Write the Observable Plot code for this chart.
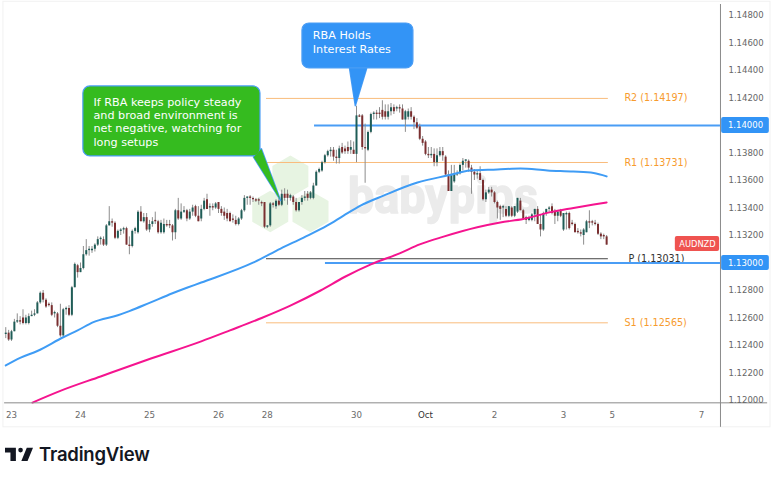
<!DOCTYPE html>
<html><head><meta charset="utf-8">
<script src="https://cdn.jsdelivr.net/npm/d3@7"></script>
<script src="https://cdn.jsdelivr.net/npm/@observablehq/plot@0.6"></script>
<style>
html,body{margin:0;padding:0;background:#fff;overflow:hidden}
#wrap{position:relative;width:780px;height:483px}
#brand{position:absolute;left:5px;top:443px;display:flex;align-items:center;gap:6px;font:600 18.5px Inter,sans-serif;color:#131722;letter-spacing:-.2px}
</style></head><body>
<div id="wrap"><div id="chart"></div>
<div id="brand"><svg width="28" height="22" viewBox="0 0 36 28"><path fill="#131722" d="M14 6H0v6h7v11h7V6Zm15 17h-8l7-17h8l-7 17Zm-9-11a3 3 0 1 0 0-6 3 3 0 0 0 0 6Z"/></svg><span>TradingView</span></div>
</div>
<script>
// Hourly AUDNZD candles, in pips: 1248 means 1.1248
const opens=[1248,1249,1244,1250,1257,1258,1260,1256,1256,1261,
1262,1263,1271,1278,1273,1270,1269,1263,1263,1254,
1247,1266,1267,1262,1282,1298,1293,1296,1306,1309,
1309,1310,1313,1317,1317,1313,1327,1330,1329,1318,
1323,1324,1325,1313,1312,1323,1322,1337,1330,1333,
1324,1328,1331,1330,1322,1322,1328,1328,1327,1322,
1338,1332,1337,1338,1332,1337,1341,1334,1332,1339,
1346,1340,1341,1340,1344,1339,1337,1336,1336,1332,
1331,1328,1332,1338,1347,1348,1347,1346,1346,1344,
1344,1326,1327,1343,1341,1345,1342,1350,1350,1347,
1348,1344,1338,1344,1347,1350,1347,1347,1356,1366,
1367,1373,1378,1381,1382,1377,1376,1384,1383,1384,
1382,1382,1379,1407,1407,1384,1382,1395,1408,1409,
1409,1411,1410,1406,1410,1413,1412,1413,1412,1404,
1406,1410,1406,1402,1399,1390,1388,1379,1378,1379,
1373,1378,1381,1377,1364,1352,1359,1364,1365,1371,
1374,1374,1369,1366,1364,1365,1360,1346,1351,1353,
1351,1344,1341,1340,1339,1334,1340,1334,1337,1345,
1338,1333,1331,1331,1335,1339,1328,1324,1336,1339,
1341,1337,1334,1338,1324,1335,1336,1329,1328,1323,
1322,1320,1322,1330,1330,1329,1328,1321,1320,1319];
const highs=[1253,1251,1251,1259,1263,1261,1266,1262,1263,1265,
1266,1272,1279,1280,1274,1271,1271,1265,1264,1270,
1267,1268,1269,1283,1300,1299,1300,1312,1317,1312,
1312,1314,1319,1319,1319,1328,1341,1332,1330,1324,
1325,1326,1326,1319,1324,1326,1338,1341,1336,1336,
1331,1333,1337,1331,1331,1332,1331,1331,1328,1339,
1347,1343,1341,1339,1339,1342,1342,1341,1342,1347,
1350,1343,1343,1344,1344,1341,1340,1339,1337,1335,
1334,1333,1339,1349,1348,1349,1348,1347,1347,1345,
1344,1327,1344,1344,1346,1347,1353,1354,1353,1350,
1349,1347,1344,1349,1352,1352,1352,1358,1367,1369,
1374,1379,1382,1384,1384,1382,1385,1387,1385,1388,
1389,1388,1414,1408,1408,1401,1396,1409,1410,1411,
1413,1418,1415,1415,1416,1415,1414,1415,1415,1411,
1412,1413,1407,1405,1401,1392,1389,1384,1384,1383,
1383,1384,1384,1378,1367,1371,1371,1367,1372,1376,
1375,1375,1371,1368,1367,1370,1361,1353,1355,1355,
1352,1345,1342,1342,1341,1341,1341,1341,1347,1347,
1339,1334,1334,1336,1339,1341,1335,1337,1339,1341,
1343,1339,1338,1339,1336,1337,1337,1331,1329,1325,
1324,1325,1331,1338,1331,1331,1329,1322,1321,1320];
const lows=[1245,1243,1243,1250,1256,1255,1255,1255,1255,1261,
1261,1263,1270,1271,1267,1268,1261,1260,1253,1246,
1246,1262,1261,1261,1282,1289,1293,1295,1305,1305,
1307,1308,1312,1313,1312,1312,1327,1326,1317,1317,
1320,1321,1313,1306,1311,1321,1321,1330,1329,1323,
1322,1326,1328,1321,1321,1321,1326,1325,1316,1317,
1331,1331,1336,1330,1331,1334,1333,1330,1330,1338,
1339,1334,1338,1339,1336,1334,1331,1330,1330,1329,
1327,1327,1331,1337,1342,1342,1344,1344,1342,1341,
1325,1325,1326,1340,1339,1341,1341,1345,1342,1345,
1342,1337,1337,1342,1345,1345,1346,1346,1356,1365,
1366,1372,1377,1377,1374,1372,1372,1379,1379,1379,
1379,1379,1373,1406,1382,1358,1381,1394,1404,1404,
1405,1404,1404,1404,1407,1408,1410,1409,1404,1395,
1404,1404,1397,1397,1389,1385,1378,1376,1376,1370,
1370,1377,1374,1363,1352,1352,1358,1363,1364,1367,
1369,1366,1350,1360,1361,1360,1345,1344,1350,1348,
1343,1332,1331,1333,1333,1333,1333,1333,1336,1338,
1331,1328,1330,1330,1330,1328,1319,1323,1334,1337,
1335,1328,1330,1333,1323,1324,1324,1327,1322,1321,
1319,1313,1322,1325,1327,1327,1320,1317,1317,1313];
const closes=[1249,1244,1250,1257,1258,1257,1256,1260,1261,1262,
1263,1271,1278,1273,1268,1269,1262,1264,1254,1247,
1266,1267,1262,1282,1299,1293,1296,1306,1309,1310,
1310,1313,1317,1318,1313,1327,1330,1329,1318,1323,
1324,1325,1313,1312,1323,1325,1337,1330,1333,1324,
1328,1330,1330,1322,1329,1328,1327,1327,1322,1338,
1332,1337,1338,1332,1337,1340,1334,1330,1339,1345,
1339,1341,1340,1343,1339,1336,1334,1332,1330,1331,
1328,1332,1338,1347,1348,1347,1346,1345,1345,1343,
1326,1327,1343,1342,1345,1342,1350,1347,1347,1349,
1344,1338,1344,1347,1348,1347,1351,1356,1366,1368,
1373,1378,1381,1382,1377,1376,1383,1380,1381,1381,
1384,1379,1407,1406,1384,1383,1395,1408,1409,1408,
1408,1406,1406,1410,1413,1410,1413,1412,1404,1410,
1410,1406,1402,1398,1390,1387,1379,1378,1379,1373,
1378,1381,1378,1364,1352,1364,1365,1365,1371,1374,
1375,1369,1366,1364,1365,1360,1346,1351,1353,1351,
1344,1340,1339,1341,1334,1341,1334,1341,1347,1338,
1332,1331,1333,1335,1339,1328,1324,1336,1339,1340,
1336,1334,1337,1334,1336,1336,1325,1328,1322,1322,
1321,1324,1330,1329,1329,1328,1321,1319,1319,1313];

// Moving averages, read at these bars
const blueBars=[0,5,11,20,25,30.5,39,43,50,58,63,68,86.2,95.6,103.6,111.9,117.5,123.4,131.4,143.2,153.6,161.7,171,179,188.4,197.4,204.5,209];
const blueVals=[1225.5,1231,1236,1246,1251,1257,1262,1265,1271,1278,1282,1285.8,1300.4,1310.5,1318.5,1327.3,1334.5,1341.8,1349,1358.5,1363.6,1367.3,1368,1368.7,1367.3,1366.5,1365.5,1363];
const pinkBars=[9.3,19,33,50.5,68,78,89,99,109.5,118,127,137,144,152,164,172,180,189.5,197.5,204.5,209];
const pinkVals=[1198.5,1207,1217.5,1230.5,1243,1251,1260,1269,1280,1290,1299,1307,1313.5,1319,1326,1329.5,1332,1337,1340,1342.5,1344];

// Pivot levels
const levelNames=["R2","R1","P","S1"];
const levelValues=[1.14197,1.13731,1.13031,1.12565];
const levelColors=["#f79b2e","#f79b2e","#333","#f79b2e"];
// Round-number lines
const roundValues=[1.14,1.13];
const roundStarts=[107.4,111.2];

// Axes
const xBars=[2,26,50,74,91,122,146,170,194,211,242];
const xLabels=["23","24","25","26","28","30","Oct","2","3","5","7"];
const yTicks=[1.148,1.146,1.144,1.142,1.14,1.138,1.136,1.134,1.132,1.13,1.128,1.126,1.124,1.122,1.12];

// Callouts: bar numbers and prices
const greenBox={x1:27,x2:88.6,y1:1.14284,y2:1.13775};
const greenTail={x:[86.2,88.9,95.6],y:[1.1377,1.1383,1.13455]};
const greenLines="If RBA keeps policy steady\nand broad environment is\nnet negative, watching for\nlong setups";
const blueBox={x1:103.2,x2:141.8,y1:1.14742,y2:1.14415};
const blueTail={x:[119.6,125.5,121.6],y:[1.14415,1.14415,1.14145]};
const blueLines="RBA Holds\nInterest Rates";
const hexBars=[99,92,106];
const hexVals=[1.1363,1.13375,1.13375];

const P=k=>1+k/10000;
const bars=d3.range(opens.length);
const up=bars.filter(i=>closes[i]>=opens[i]);
const down=bars.filter(i=>closes[i]<opens[i]);
const pts=(xs,ys)=>xs.map((x,i)=>({x,y:ys[i]}));
const font='"DejaVu Sans",sans-serif';
const GREEN="#35bb1f",BLUE="#3394f6",EDGE="#4a9df5";
const tailMark=(t,fill,stroke)=>Plot.line(pts(t.x,t.y),{x:"x",y:"y",fill,stroke,strokeWidth:1.6,curve:"linear-closed"});
const boxMark=(b,fill)=>Plot.rect([b],{x1:"x1",x2:"x2",y1:"y1",y2:"y2",fill,stroke:EDGE,strokeWidth:1.2,rx:7,ry:7,inset:0});

const chart=Plot.plot({
  width:780,height:428,marginTop:3,marginLeft:4,marginRight:60,marginBottom:25,
  x:{type:"linear",domain:[0,242],range:[5.25,701],label:null},
  y:{domain:[1.12,1.148],range:[400,15],label:null},
  style:{fontFamily:font,background:"#fff"},
  marks:[
    Plot.rect([{x1:-0.8,x2:266,y1:1.149,y2:1.11805}],{x1:"x1",x2:"x2",y1:"y1",y2:"y2",fill:"none",stroke:"#f1f1f1"}),
    Plot.hexagon(hexBars.map((b,i)=>({b,v:hexVals[i]})),{x:"b",y:"v",r:18,fill:"#e7f4e2"}),
    Plot.text(["babypips"],{x:119,y:1.13365,text:d=>d,textAnchor:"start",lineAnchor:"bottom",fontSize:50,fontWeight:700,fill:"#ebebeb",stroke:"#ebebeb",strokeWidth:1.5,fontFamily:"Roboto,sans-serif",className:"wm"}),
    Plot.ruleY(levelValues.map((v,i)=>i),{y:i=>levelValues[i],x1:90.7,x2:209.6,stroke:i=>levelNames[i]==="P"?"#444":"#f9bc7c",strokeWidth:1}),
    Plot.text(levelValues.map((v,i)=>i),{x:i=>levelNames[i]==="P"?216.6:215.2,y:i=>levelValues[i],text:i=>`${levelNames[i]} (${levelValues[i].toFixed(5)})`,textAnchor:"start",fill:i=>levelColors[i],fontSize:9.6,fontFamily:font}),
    Plot.ruleY(roundValues.map((v,i)=>i),{y:i=>roundValues[i],x1:i=>roundStarts[i],x2:248.6,stroke:"#4a9df5",strokeWidth:2}),
    Plot.ruleX(bars,{x:i=>i,y1:i=>P(lows[i]),y2:i=>P(highs[i]),stroke:"#8d8d8d",strokeWidth:1}),
    Plot.ruleX(up,{x:i=>i,y1:i=>P(opens[i]),y2:i=>P(closes[i]),stroke:"#1f5d57",strokeWidth:2}),
    Plot.ruleX(down,{x:i=>i,y1:i=>P(opens[i]),y2:i=>P(closes[i]),stroke:"#7a2f30",strokeWidth:2}),
    Plot.line(pts(blueBars,blueVals.map(P)),{x:"x",y:"y",stroke:"#3f9cf5",strokeWidth:2,curve:"monotone-x"}),
    Plot.line(pts(pinkBars,pinkVals.map(P)),{x:"x",y:"y",stroke:"#f5148f",strokeWidth:2,curve:"monotone-x"}),
    Plot.ruleY([1.11983],{x1:-0.4,x2:265,stroke:"#8a8a8a"}),
    Plot.ruleX([248.6],{y1:1.1488,y2:1.11805,stroke:"#8a8a8a"}),
    Plot.axisY(yTicks,{anchor:"right",tickSize:0,tickPadding:8,tickFormat:d=>d.toFixed(5),fontSize:8.5,color:"#666",label:null}),
    Plot.axisX(xBars.filter((b,i)=>xLabels[i]!=="Oct"),{tickSize:0,tickPadding:8,tickFormat:d=>xLabels[xBars.indexOf(d)],fontSize:8.7,color:"#6b6b6b",label:null}),
    Plot.axisX(xBars.filter((b,i)=>xLabels[i]==="Oct"),{tickSize:0,tickPadding:8,tickFormat:d=>xLabels[xBars.indexOf(d)],fontSize:8.7,color:"#333",label:null}),
    Plot.rect([0,1],{x1:249,x2:265.6,y1:i=>[1.14058,1.13055][i],y2:i=>[1.13942,1.12945][i],fill:"#3294f6",rx:2,ry:2}),
    Plot.text([0,1],{x:257.3,y:i=>roundValues[i],text:i=>roundValues[i].toFixed(5),fill:"#fff",fontSize:8.5,fontFamily:font}),
    Plot.rect([0],{x1:232.9,x2:248.3,y1:1.13193,y2:1.13084,fill:"#ef5350",rx:2,ry:2}),
    Plot.text(["AUDNZD"],{x:240.6,y:1.13138,text:d=>d,fill:"#fff",fontSize:8.3,fontFamily:font}),
    tailMark(greenTail,GREEN,EDGE),
    boxMark(greenBox,GREEN),
    tailMark(greenTail,GREEN,"none"),
    Plot.text([greenLines],{x:30.5,y:1.1421,text:d=>d,textAnchor:"start",lineAnchor:"top",lineHeight:1.18,fill:"#fff",fontSize:11.2,fontFamily:font}),
    tailMark(blueTail,BLUE,EDGE),
    boxMark(blueBox,BLUE),
    tailMark(blueTail,BLUE,"none"),
    Plot.text([blueLines],{x:106.8,y:1.14695,text:d=>d,textAnchor:"start",lineAnchor:"top",lineHeight:1.18,fill:"#fff",fontSize:11.2,fontFamily:font})
  ]
});
document.getElementById("chart").appendChild(chart);
const wm=chart.querySelector(".wm text")||chart.querySelector("text.wm");
if(wm){wm.setAttribute("textLength","190");wm.setAttribute("lengthAdjust","spacingAndGlyphs");}
</script>
</body></html>
